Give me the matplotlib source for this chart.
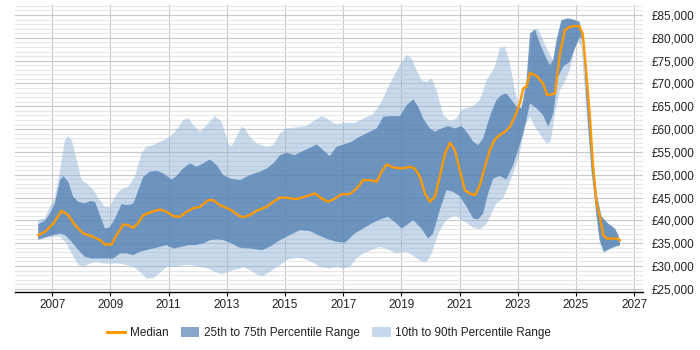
import matplotlib
matplotlib.use("Agg")
import matplotlib.pyplot as plt
import numpy as np
from matplotlib.lines import Line2D
from matplotlib.patches import Patch
from matplotlib.ticker import FuncFormatter, MultipleLocator

plt.rcParams["font.family"] = ["Liberation Sans", "DejaVu Sans"]

# values in £ thousands
median_years = [2006.52, 2006.75, 2007.04, 2007.32, 2007.55, 2007.78, 2008.07, 2008.35, 2008.64, 2008.81,
                2009.04, 2009.21, 2009.44, 2009.61, 2009.79, 2009.96, 2010.13, 2010.42, 2010.70, 2010.93,
                2011.16, 2011.39, 2011.62, 2011.85, 2012.08, 2012.36, 2012.53, 2012.76, 2013.11, 2013.45,
                2013.57, 2013.79, 2014.02, 2014.37, 2014.60, 2014.83, 2015.05, 2015.40, 2015.74, 2016.03,
                2016.26, 2016.49, 2016.72, 2016.94, 2017.23, 2017.46, 2017.69, 2017.92, 2018.15, 2018.32,
                2018.49, 2018.72, 2019.01, 2019.29, 2019.46, 2019.64, 2019.81, 2019.98, 2020.15, 2020.32,
                2020.50, 2020.67, 2020.84, 2021.01, 2021.18, 2021.35, 2021.53, 2021.70, 2021.87, 2022.04,
                2022.21, 2022.38, 2022.56, 2022.73, 2022.90, 2023.07, 2023.19, 2023.30, 2023.42, 2023.65,
                2023.87, 2024.01, 2024.16, 2024.28, 2024.45, 2024.62, 2024.79, 2024.96, 2025.11, 2025.23,
                2025.34, 2025.48, 2025.59, 2025.71, 2025.82, 2025.94, 2026.05, 2026.28, 2026.39, 2026.51]
median = [36.77, 37.50, 39.32, 42.10, 41.15, 38.96, 37.13, 36.55, 35.67, 34.72,
          34.72, 36.77, 39.10, 38.96, 38.37, 39.47, 41.15, 41.88, 42.39, 41.88,
          40.93, 40.78, 41.88, 42.68, 42.98, 44.44, 44.44, 43.34, 42.39, 40.90,
          40.71, 41.15, 42.10, 42.98, 44.07, 45.02, 44.95, 44.66, 45.31, 45.90,
          44.80, 44.07, 44.80, 45.75, 45.75, 47.00, 48.82, 48.82, 48.46, 50.65,
          52.26, 51.60, 51.38, 51.74, 51.38, 49.55, 45.90, 44.07, 45.17, 49.55,
          54.67, 57.01, 55.40, 51.00, 46.63, 45.90, 45.53, 47.73, 51.74, 55.40,
          57.74, 58.69, 59.42, 60.51, 62.71, 65.63, 68.92, 69.28, 72.35, 71.62,
          70.01, 67.46, 67.60, 67.82, 76.59, 81.70, 82.43, 82.58, 82.58, 80.97,
          73.67, 62.71, 51.74, 43.71, 40.78, 36.77, 36.03, 36.03, 36.03, 35.67]

p90_years = [2006.52, 2006.75, 2006.92, 2007.09, 2007.27, 2007.44, 2007.55, 2007.67, 2007.84, 2008.01,
             2008.18, 2008.41, 2008.64, 2008.81, 2008.98, 2009.16, 2009.33, 2009.61, 2009.84, 2010.07,
             2010.24, 2010.47, 2010.70, 2011.05, 2011.27, 2011.50, 2011.68, 2011.85, 2012.08, 2012.31,
             2012.59, 2012.82, 2013.05, 2013.16, 2013.34, 2013.51, 2013.62, 2013.79, 2014.02, 2014.37,
             2014.60, 2014.83, 2015.05, 2015.40, 2015.74, 2016.03, 2016.26, 2016.49, 2016.72, 2017.06,
             2017.40, 2017.69, 2018.03, 2018.32, 2018.61, 2018.95, 2019.18, 2019.35, 2019.52, 2019.69,
             2019.87, 2020.04, 2020.21, 2020.44, 2020.67, 2020.90, 2021.07, 2021.35, 2021.47, 2021.70,
             2021.93, 2022.04, 2022.21, 2022.38, 2022.56, 2022.73, 2022.90, 2023.07, 2023.24, 2023.42,
             2023.53, 2023.70, 2023.87, 2024.05, 2024.22, 2024.39, 2024.50, 2024.68, 2024.96, 2025.13,
             2025.31, 2025.42, 2025.53, 2025.65, 2025.82, 2026.05, 2026.28, 2026.45, 2026.51]
p90 = [40.05, 40.42, 42.98, 44.80, 51.01, 57.59, 58.47, 57.59, 53.21, 48.82,
       48.09, 46.63, 44.44, 42.98, 42.98, 45.17, 46.63, 47.36, 49.55, 54.67,
       56.13, 56.49, 57.23, 58.32, 59.78, 61.97, 62.34, 60.88, 59.42, 60.88,
       62.85, 61.61, 56.86, 56.13, 58.32, 60.51, 60.15, 58.32, 56.86, 56.13,
       56.49, 59.05, 60.15, 60.37, 60.66, 61.97, 62.85, 62.12, 61.10, 61.39,
       61.39, 62.34, 63.22, 65.99, 70.01, 74.03, 76.22, 75.49, 72.94, 70.74,
       70.38, 71.11, 68.55, 63.07, 61.83, 62.34, 64.31, 64.75, 65.04, 66.36,
       70.74, 71.84, 73.67, 77.68, 78.05, 74.40, 68.55, 64.53, 66.36, 76.59,
       81.70, 82.07, 79.51, 76.95, 75.13, 79.51, 83.53, 84.26, 83.90, 82.43,
       75.13, 65.63, 55.40, 47.36, 41.52, 39.32, 38.23, 37.13, 35.67]

p75_years = [2006.52, 2006.75, 2006.92, 2007.09, 2007.27, 2007.38, 2007.55, 2007.72, 2007.90, 2008.12,
             2008.30, 2008.47, 2008.64, 2008.81, 2008.98, 2009.16, 2009.38, 2009.61, 2009.79, 2009.96,
             2010.13, 2010.36, 2010.59, 2010.82, 2011.10, 2011.27, 2011.50, 2011.73, 2011.96, 2012.19,
             2012.42, 2012.65, 2012.88, 2013.11, 2013.45, 2013.79, 2014.14, 2014.37, 2014.60, 2014.83,
             2015.05, 2015.34, 2015.57, 2015.86, 2016.09, 2016.31, 2016.54, 2016.77, 2017.06, 2017.29,
             2017.52, 2017.80, 2018.15, 2018.38, 2018.66, 2018.95, 2019.18, 2019.41, 2019.58, 2019.75,
             2019.98, 2020.15, 2020.38, 2020.61, 2020.84, 2021.07, 2021.24, 2021.47, 2021.64, 2021.81,
             2021.93, 2022.10, 2022.27, 2022.44, 2022.61, 2022.79, 2022.96, 2023.13, 2023.30, 2023.42,
             2023.59, 2023.76, 2023.93, 2024.10, 2024.22, 2024.33, 2024.50, 2024.73, 2024.96, 2025.13,
             2025.31, 2025.48, 2025.59, 2025.71, 2025.88, 2026.11, 2026.34, 2026.45, 2026.51]
p75 = [39.18, 39.91, 41.52, 43.71, 48.82, 49.70, 48.46, 45.17, 44.07, 43.71,
       44.22, 44.07, 41.15, 38.23, 38.45, 40.42, 43.56, 43.34, 43.71, 46.63,
       49.55, 50.65, 50.87, 50.28, 48.97, 49.70, 51.38, 52.48, 51.74, 52.48,
       53.35, 52.11, 49.92, 49.19, 48.80, 49.92, 50.65, 51.38, 52.48, 54.30,
       54.81, 54.30, 55.03, 55.91, 56.64, 55.40, 54.08, 56.13, 56.71, 57.23,
       58.18, 59.05, 60.15, 62.71, 62.85, 62.85, 65.26, 66.51, 64.90, 62.34,
       60.15, 59.42, 60.15, 60.66, 60.15, 60.66, 59.42, 57.23, 56.49, 57.96,
       60.51, 63.80, 66.36, 67.46, 67.82, 66.36, 64.90, 64.53, 70.74, 80.97,
       81.85, 78.78, 76.22, 74.03, 75.13, 79.51, 83.90, 84.26, 83.90, 83.53,
       76.59, 64.17, 53.21, 45.90, 40.78, 39.32, 38.23, 36.77, 35.30]

p25_years = [2006.52, 2006.75, 2007.04, 2007.27, 2007.44, 2007.67, 2007.90, 2008.12, 2008.35, 2008.64,
             2008.87, 2009.10, 2009.33, 2009.56, 2009.79, 2010.01, 2010.24, 2010.47, 2010.70, 2010.93,
             2011.16, 2011.45, 2011.68, 2011.90, 2012.19, 2012.42, 2012.65, 2012.88, 2013.11, 2013.45,
             2013.79, 2014.20, 2014.48, 2014.83, 2015.17, 2015.51, 2015.86, 2016.14, 2016.49, 2016.77,
             2017.06, 2017.40, 2017.69, 2017.98, 2018.26, 2018.55, 2018.83, 2019.01, 2019.18, 2019.41,
             2019.69, 2019.92, 2020.09, 2020.32, 2020.55, 2020.78, 2021.01, 2021.24, 2021.47, 2021.64,
             2021.81, 2021.98, 2022.16, 2022.38, 2022.61, 2022.84, 2023.01, 2023.19, 2023.42, 2023.65,
             2023.87, 2024.05, 2024.22, 2024.39, 2024.56, 2024.79, 2024.96, 2025.13, 2025.25, 2025.36,
             2025.53, 2025.71, 2025.82, 2025.96, 2026.17, 2026.39, 2026.51]
p25 = [35.82, 36.25, 36.77, 37.13, 36.77, 35.30, 33.48, 32.02, 31.65, 31.65,
       31.65, 31.65, 32.75, 32.75, 32.38, 33.11, 33.48, 33.84, 34.21, 34.57,
       33.84, 34.21, 34.57, 34.57, 34.94, 35.67, 35.82, 35.67, 35.09, 34.00,
       33.84, 33.48, 34.21, 35.67, 36.77, 37.86, 37.64, 36.77, 35.82, 35.30,
       35.09, 37.13, 38.23, 39.32, 40.20, 40.78, 39.32, 38.23, 38.96, 40.05,
       38.23, 36.03, 37.13, 42.25, 46.63, 46.26, 45.30, 43.00, 40.42, 40.20,
       41.52, 45.90, 49.19, 49.70, 48.97, 52.11, 55.40, 59.05, 65.63, 64.53,
       63.07, 60.51, 63.44, 71.47, 73.67, 74.76, 77.68, 80.24, 79.51, 66.36,
       51.74, 40.78, 35.67, 33.11, 33.84, 34.35, 34.57]

p10_years = [2006.52, 2006.75, 2007.04, 2007.27, 2007.49, 2007.67, 2007.90, 2008.07, 2008.30, 2008.53,
             2008.75, 2009.04, 2009.33, 2009.56, 2009.79, 2010.01, 2010.24, 2010.47, 2010.70, 2010.93,
             2011.22, 2011.50, 2011.79, 2012.08, 2012.36, 2012.59, 2012.82, 2012.99, 2013.22, 2013.45,
             2013.57, 2013.79, 2014.08, 2014.25, 2014.48, 2014.83, 2015.11, 2015.40, 2015.63, 2015.91,
             2016.20, 2016.54, 2016.77, 2017.00, 2017.23, 2017.46, 2017.69, 2017.98, 2018.26, 2018.55,
             2018.83, 2019.18, 2019.46, 2019.69, 2019.87, 2020.04, 2020.27, 2020.50, 2020.72, 2020.90,
             2021.07, 2021.24, 2021.47, 2021.70, 2021.93, 2022.10, 2022.27, 2022.50, 2022.67, 2022.84,
             2023.07, 2023.24, 2023.42, 2023.59, 2023.82, 2023.99, 2024.13, 2024.28, 2024.45, 2024.62,
             2024.79, 2024.96, 2025.08, 2025.19, 2025.36, 2025.53, 2025.71, 2025.82, 2025.96, 2026.17,
             2026.39, 2026.51]
p10 = [35.67, 36.03, 36.40, 36.40, 34.94, 32.75, 30.19, 29.82, 30.55, 30.92,
       30.55, 30.55, 30.55, 30.19, 29.82, 28.73, 27.27, 27.27, 28.51, 29.82,
       29.82, 30.19, 30.19, 29.82, 29.46, 28.73, 28.22, 28.51, 29.09, 29.46,
       29.82, 29.09, 28.00, 27.78, 28.73, 30.19, 31.43, 31.80, 31.65, 30.92,
       29.82, 29.46, 29.82, 29.46, 29.82, 31.65, 32.75, 33.48, 34.21, 33.62,
       32.75, 33.11, 32.02, 30.92, 30.92, 32.75, 37.13, 39.69, 40.78, 40.93,
       40.05, 39.50, 38.37, 38.01, 39.32, 41.52, 43.71, 44.80, 47.36, 50.28,
       54.67, 60.51, 62.71, 60.51, 58.32, 56.86, 57.23, 63.44, 68.55, 70.38,
       72.94, 77.68, 79.15, 78.05, 64.17, 50.28, 41.52, 34.94, 32.89, 33.62,
       34.21, 34.35]

year_ticks = [2007, 2009, 2011, 2013, 2015, 2017, 2019, 2021, 2023, 2025, 2027]


def band(years_hi, hi, years_lo, lo):
    xs = np.concatenate([years_hi, years_lo[::-1]])
    ys = np.concatenate([np.array(hi), np.array(lo)[::-1]]) * 1000
    return xs, ys


fig = plt.figure(figsize=(7, 3.5), dpi=100)
ax = fig.add_axes([0.0214, 0.1657, 0.897, 0.82])

outer_x, outer_y = band(p90_years, p90, p10_years, p10)
inner_x, inner_y = band(p75_years, p75, p25_years, p25)
ax.fill(outer_x, outer_y, color="#91b5d9", alpha=0.5, lw=0, zorder=2)
ax.fill(inner_x, inner_y, color="#4f7db0", alpha=0.75, lw=0, zorder=3)
ax.plot(median_years, np.array(median) * 1000, color="#ff9900", lw=1.7, zorder=4)

ax.set_xlim(2005.72, 2027.3)
ax.set_ylim(24300, 87200)
ax.set_xticks(year_ticks)
ax.set_xticklabels([str(y) for y in year_ticks])
ax.yaxis.set_major_locator(MultipleLocator(5000))
ax.yaxis.set_minor_locator(MultipleLocator(1000))
ax.yaxis.set_major_formatter(FuncFormatter(lambda v, _: f"£{v:,.0f}"))
ax.yaxis.tick_right()

ax.grid(axis="x", color="#c8c8c8", lw=0.8, zorder=0)
ax.grid(axis="y", which="major", color="#c8c8c8", lw=0.8, zorder=0)
ax.grid(axis="y", which="minor", color="#e6e6e6", lw=0.8, zorder=0)
ax.set_axisbelow(True)

for side in ["top", "left", "right"]:
    ax.spines[side].set_visible(False)
ax.spines["bottom"].set_color("#000000")
ax.spines["bottom"].set_linewidth(1.0)

ax.tick_params(axis="y", which="both", length=0, pad=6, labelsize=8.5, labelcolor="#222222")
ax.tick_params(axis="x", length=3, color="#000000", pad=2, labelsize=8.5, labelcolor="#222222")

handles = [
    Line2D([0], [0], color="#ff9900", lw=2.2),
    Patch(facecolor="#4f7db0", alpha=0.68, edgecolor="none"),
    Patch(facecolor="#c6d9ec", edgecolor="none"),
]
labels = ["Median", "25th to 75th Percentile Range", "10th to 90th Percentile Range"]
ax.legend(handles, labels, loc="center", bbox_to_anchor=(0.5, -0.143), ncol=3, frameon=False,
          fontsize=8.5, handlelength=1.6, handleheight=1.0, handletextpad=0.4, columnspacing=1.0,
          labelcolor="#222222")

fig.savefig("out.png", dpi=100)
